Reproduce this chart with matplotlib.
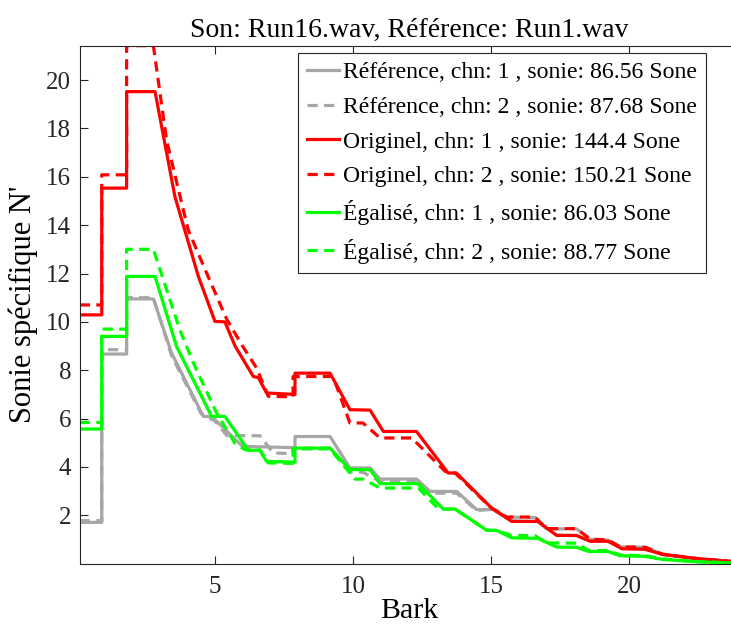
import matplotlib
matplotlib.use("Agg")
import matplotlib.pyplot as plt

plt.rcParams['font.family'] = ['Liberation Serif', 'DejaVu Serif']

# Référence, canal 1 / 2 (gris)
ref1_bark = [0.1, 0.9, 0.9, 1.8, 1.8, 2.77, 3.43, 4.58, 4.88, 6.0, 7.9, 7.9, 9.17, 9.89, 10.62,
             10.98, 12.31, 12.79, 13.76, 14.48, 15.15, 15.75, 16.7, 17.38, 18.1, 18.59, 19.25,
             19.74, 20.58, 21.24, 22.45, 24.0]
ref1_sone = [1.71, 1.71, 8.67, 8.67, 10.95, 10.95, 8.71, 6.09, 6.09, 4.85, 4.8, 5.26, 5.26, 3.96, 3.96,
             3.5, 3.5, 2.99, 2.99, 2.24, 2.24, 1.77, 1.74, 1.18, 1.16, 0.94, 0.92,
             0.63, 0.6, 0.38, 0.21, 0.06]
ref2_bark = [0.1, 0.9, 0.9, 1.8, 1.8, 2.77, 3.43, 4.5, 5.0, 5.43, 6.63, 7.11, 7.83, 7.83, 9.17,
             9.89, 10.36, 10.98, 12.31, 12.79, 13.76, 14.48, 15.02, 15.57, 16.6, 17.0, 18.1,
             18.59, 19.25, 19.68, 20.6, 21.2, 22.45, 24.0]
ref2_sone = [1.78, 1.78, 8.85, 8.85, 11.0, 11.0, 8.6, 6.2, 5.9, 5.3, 5.29, 4.58, 4.55, 4.78, 4.78,
             3.78, 3.78, 3.41, 3.41, 2.92, 2.92, 2.2, 2.25, 1.93, 1.91, 1.44, 1.44,
             1.01, 0.97, 0.7, 0.68, 0.4, 0.22, 0.07]

# Originel, canal 1 / 2 (rouge)
orig1_bark = [0.1, 0.9, 0.9, 1.8, 1.8, 2.83, 3.55, 4.4, 5.0, 5.36, 5.73, 6.39, 6.57, 6.87, 7.9, 7.9,
              9.17, 9.89, 10.62, 11.1, 12.3, 13.45, 13.75, 15.02, 15.75, 16.7, 17.38, 18.1,
              18.59, 19.25, 19.74, 20.58, 21.24, 22.45, 24.0]
orig1_sone = [10.29, 10.29, 15.53, 15.53, 19.52, 19.52, 15.18, 11.88, 10.02, 10.0, 9.0, 7.74, 7.7, 7.06, 7.0, 7.88,
              7.88, 6.37, 6.35, 5.47, 5.47, 3.75, 3.75, 2.3, 1.75, 1.75, 1.17, 1.17,
              0.93, 0.93, 0.62, 0.6, 0.38, 0.21, 0.06]
orig2_bark = [0.1, 0.9, 0.9, 1.8, 1.8, 2.77, 3.25, 4.03, 4.82, 5.43, 6.0, 6.51, 6.93, 7.83, 7.83,
              9.28, 9.89, 10.36, 10.98, 12.13, 13.34, 13.7, 15.02, 15.57, 16.6, 17.0, 18.1,
              18.59, 19.25, 19.68, 20.6, 21.2, 22.45, 24.0]
orig2_sone = [10.7, 10.7, 16.08, 16.08, 21.42, 21.42, 17.5, 13.8, 11.7, 10.1, 9.0, 8.09, 6.92, 6.9, 7.74,
              7.74, 5.82, 5.82, 5.2, 5.2, 3.82, 3.75, 2.3, 1.93, 1.93, 1.45, 1.45,
              1.02, 0.98, 0.7, 0.68, 0.4, 0.22, 0.07]

# Égalisé, canal 1 / 2 (vert)
eg1_bark = [0.1, 0.9, 0.9, 1.8, 1.8, 2.83, 3.61, 4.88, 5.36, 6.21, 6.63, 6.87, 7.9, 7.9, 9.17,
            9.89, 10.62, 10.98, 12.37, 13.27, 13.7, 14.85, 15.2, 15.75, 16.7, 17.38, 18.1,
            18.53, 19.25, 19.68, 20.6, 21.2, 22.45, 24.0]
eg1_sone = [5.57, 5.57, 9.4, 9.4, 11.88, 11.88, 8.98, 6.09, 6.09, 4.69, 4.69, 4.23, 4.2, 4.78, 4.78,
            3.89, 3.89, 3.31, 3.31, 2.26, 2.26, 1.38, 1.38, 1.07, 1.05, 0.69, 0.68,
            0.51, 0.5, 0.33, 0.3, 0.18, 0.08, 0.02]
eg2_bark = [0.1, 0.9, 0.9, 1.8, 1.8, 2.77, 3.25, 3.73, 4.22, 5.06, 5.72, 6.09, 6.63, 6.93, 7.83, 7.83,
            9.17, 10.07, 10.36, 10.98, 12.37, 13.1, 13.7, 14.85, 15.2, 15.75, 16.6, 17.0, 18.1,
            18.53, 19.25, 19.68, 20.6, 21.2, 22.45, 24.0]
eg2_sone = [5.84, 5.84, 9.7, 9.7, 13.0, 13.0, 11.33, 9.67, 8.3, 6.23, 4.99, 4.71, 4.7, 4.17, 4.15, 4.75,
            4.75, 3.5, 3.5, 3.13, 3.13, 2.26, 2.26, 1.38, 1.38, 1.17, 1.16, 0.86, 0.85,
            0.55, 0.54, 0.36, 0.33, 0.2, 0.09, 0.02]

labels = [
    "Référence, chn: 1 , sonie: 86.56 Sone",
    "Référence, chn: 2 , sonie: 87.68 Sone",
    "Originel, chn: 1 , sonie: 144.4 Sone",
    "Originel, chn: 2 , sonie: 150.21 Sone",
    "Égalisé, chn: 1 , sonie: 86.03 Sone",
    "Égalisé, chn: 2 , sonie: 88.77 Sone",
]

grey = (0.65, 0.65, 0.65)
dash = (0, (3.2, 2.0))
dark = (0.15, 0.15, 0.15)
lw = 2.3

fig = plt.figure(figsize=(7.31, 6.30), dpi=100)
# the right side of the axes is cut off by the image border, like the original
ax = fig.add_axes([0.109, 0.1052, 0.9025, 0.8223])

ax.plot(ref1_bark, ref1_sone, color=grey, lw=lw, label=labels[0])
ax.plot(ref2_bark, ref2_sone, color=grey, lw=lw, ls=dash, label=labels[1])
ax.plot(orig1_bark, orig1_sone, color='red', lw=lw, label=labels[2])
ax.plot(orig2_bark, orig2_sone, color='red', lw=lw, ls=dash, label=labels[3])
ax.plot(eg1_bark, eg1_sone, color=(0, 1, 0), lw=lw, label=labels[4])
ax.plot(eg2_bark, eg2_sone, color=(0, 1, 0), lw=lw, ls=dash, label=labels[5])

ax.set_xlim(0.1, 24)
ax.set_ylim(0, 21.42)
ax.set_xticks([5, 10, 15, 20])
ax.set_yticks(range(2, 21, 2))
ax.tick_params(direction='in', length=5.5, width=0.8, colors=dark, labelsize=18,
               top=True, right=False, pad=6)
ax.tick_params(axis='x', pad=9)
for side in ['left', 'bottom', 'top']:
    ax.spines[side].set_color(dark)
    ax.spines[side].set_linewidth(0.8)
ax.spines['right'].set_visible(False)

ax.set_title("Son: Run16.wav, Référence: Run1.wav", fontsize=20, pad=6)
ax.set_xlabel("Bark", fontsize=21.5, labelpad=0)
ax.set_ylabel("Sonie spécifique N'", fontsize=22, labelpad=6)

leg = ax.legend(loc='upper right', bbox_to_anchor=(706 / 731, 1 - 52.7 / 630),
                bbox_transform=fig.transFigure, fontsize=17.1, handlelength=1.35,
                handletextpad=0.17, labelspacing=0.55, borderpad=0.38, borderaxespad=0,
                fancybox=False, framealpha=1)
leg.get_frame().set_edgecolor(dark)
leg.get_frame().set_linewidth(0.8)

fig.savefig("out.png", dpi=100)
